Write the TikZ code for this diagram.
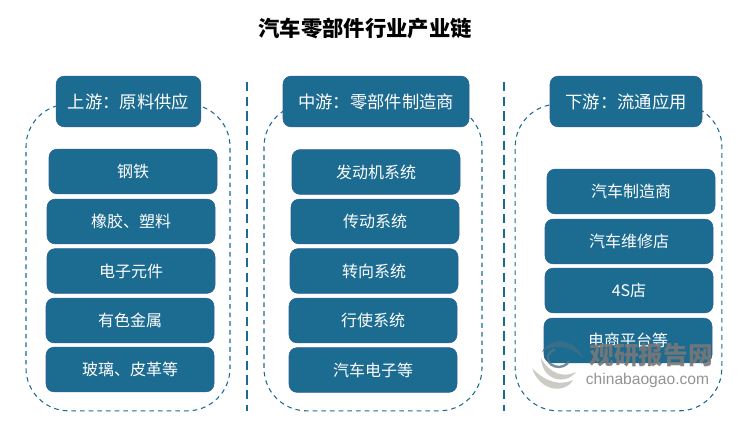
\documentclass[tikz,border=0pt]{standalone}
\usepackage{fontspec}
\setmainfont{Noto Sans CJK SC}
\setsansfont{Liberation Sans}
\definecolor{boxblue}{HTML}{1C6B91}
\definecolor{boxedge}{HTML}{2F5F97}
\definecolor{markgray}{HTML}{787878}
\definecolor{marklight}{HTML}{C4C2BC}
\definecolor{markteal}{HTML}{3F6F88}
\tikzset{
  itembox/.style={draw=boxedge,fill=boxblue,rounded corners=6pt,minimum width=126pt,minimum height=33.5pt,inner sep=0pt,text=white,font=\fontsize{12}{14}\selectfont},
  headbox/.style={itembox,minimum height=38pt,font=\fontsize{13}{15}\selectfont},
  groupbox/.style={draw=boxblue,dash pattern=on 3.5pt off 3pt,line width=0.8pt,rounded corners=32pt,inner sep=0pt},
  sepline/.style={draw=boxblue,dash pattern=on 7pt off 4pt,line width=1.4pt}
}
\begin{document}
\begin{tikzpicture}[x=0.75pt,y=-0.75pt]
    \useasboundingbox (0,0) rectangle (750,428);
    % titel
    \node[font=\bfseries\fontsize{16}{18}\selectfont] (title) at (365,28) {汽车零部件行业产业链};

    % scheidingslijnen
    \coordinate (sepa1) at (247,82);
    \coordinate (sepa2) at (247,411);
    \coordinate (sepb1) at (504,82);
    \coordinate (sepb2) at (504,411);
    \draw[sepline] (sepa1) -- (sepa2);
    \draw[sepline] (sepb1) -- (sepb2);

    % groepen
    \node[groupbox,minimum width=153pt,minimum height=230pt] (groupa) at (128,257.5) {};
    \node[groupbox,minimum width=163.5pt,minimum height=230pt] (groupb) at (373,257.5) {};
    \node[groupbox,minimum width=155pt,minimum height=230pt] (groupc) at (618.5,257.5) {};

    % kop
    \node[headbox,minimum width=108.5pt] (heada) at (128.5,101.5) {上游：原料供应};
    \node[headbox,minimum width=139.5pt] (headb) at (376,101.5) {中游：零部件制造商};
    \node[headbox,minimum width=114pt] (headc) at (626,101.5) {下游：流通应用};

    % bovenstrooms
    \node[itembox] (steel) at (133,171.5) {钢铁};
    \node[itembox] (rubber) at (131,221.5) {橡胶、塑料};
    \node[itembox] (chips) at (131,271) {电子元件};
    \node[itembox] (metal) at (130,320.5) {有色金属};
    \node[itembox] (glass) at (130,369.5) {玻璃、皮革等};

    % middenstrooms
    \node[itembox] (engine) at (376,172) {发动机系统};
    \node[itembox] (drive) at (375,221.5) {传动系统};
    \node[itembox] (steer) at (374,271) {转向系统};
    \node[itembox] (chassis) at (373,320.5) {行使系统};
    \node[itembox] (electro) at (373,370) {汽车电子等};

    % benedenstrooms
    \node[itembox] (maker) at (631,191.5) {汽车制造商};
    \node[itembox] (repair) at (629,241.5) {汽车维修店};
    \node[itembox] (fours) at (629,290.5) {4S店};
    \node[itembox] (shop) at (628,340.5) {电商平台等};

    % watermerk
    \fill[marklight,opacity=0.85] (532,368) .. controls (540,392) and (565,394) .. (573,380) .. controls (560,386) and (545,382) .. (532,368);
    \fill[marklight,opacity=0.85] (541,358) .. controls (542,380) and (565,386) .. (576,372) .. controls (563,378) and (550,374) .. (541,358);
    \fill[markteal,opacity=0.85] (542,352) .. controls (550,336) and (575,338) .. (583,358) .. controls (570,345) and (553,344) .. (542,352);
    \draw[markteal!70!gray,opacity=0.8,line width=1.8pt] (569,361) arc (20:250:11 and 9);
    \node[text=markgray,opacity=0.9,font=\bfseries\fontsize{18.5}{20}\selectfont] (markcn) at (651,355) {观研报告网};
    \node[text=markgray!80,font=\sffamily\fontsize{11.7}{13}\selectfont] (markurl) at (647.5,380) {chinabaogao.com};
\end{tikzpicture}
\end{document}
